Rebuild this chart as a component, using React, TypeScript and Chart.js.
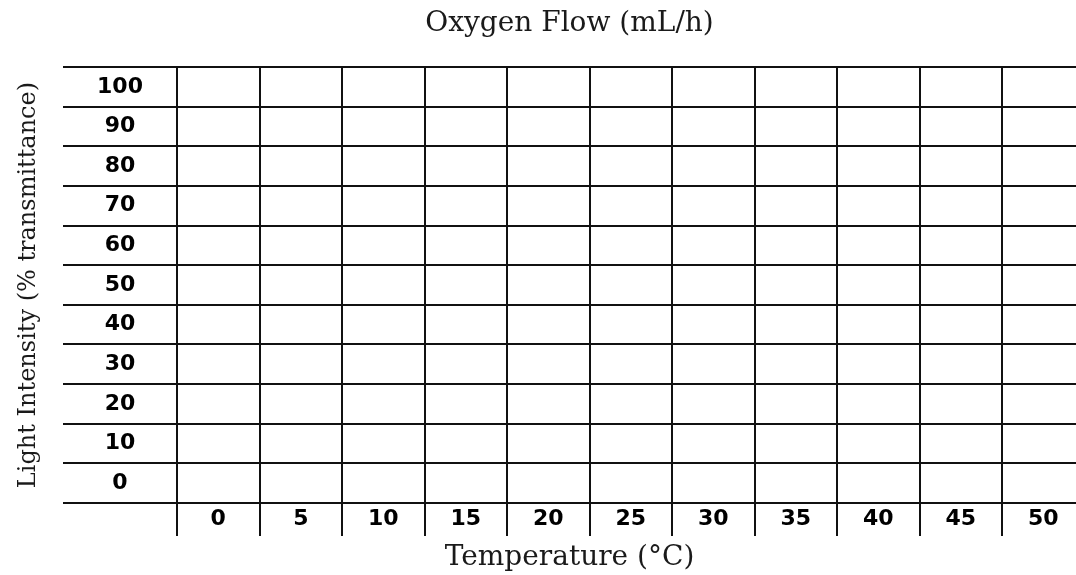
import React, { useEffect, useRef } from "react";
import { Chart, registerables } from "chart.js";

Chart.register(...registerables);

// ---- data (empty response grid: only axes / categories) ----
const temperatureValues = [0, 5, 10, 15, 20, 25, 30, 35, 40, 45, 50];
const temperatureLabels = ["0", "5", "10", "15", "20", "25", "30", "35", "40", "45", "50"];
const intensityValues = [0, 10, 20, 30, 40, 50, 60, 70, 80, 90, 100];
const intensityLabels = ["0", "10", "20", "30", "40", "50", "60", "70", "80", "90", "100"];
const topTitle = "Oxygen Flow (mL/h)";
const xTitle = "Temperature (°C)";
const yTitle = "Light Intensity (% transmittance)";

const TICK_FAMILY = "'DejaVu Sans', sans-serif";
const TICK_SIZE = 22;
const TITLE_FAMILY = "'DejaVu Serif', serif";
const TITLE_SIZE = 28;
const Y_TITLE_SIZE = 24;
const LINE = "#111111";

export default function App() {
  const ref = useRef<HTMLCanvasElement>(null);

  useEffect(() => {
    const canvas = ref.current;
    if (!canvas) return;
    const ctx = canvas.getContext("2d")!;
    ctx.font = `bold ${TICK_SIZE}px ${TICK_FAMILY}`;
    const widest = Math.max(...intensityLabels.map((t) => ctx.measureText(t).width));

    const chart = new Chart(canvas, {
      type: "scatter",
      data: { datasets: [{ data: [] }] },
      options: {
        responsive: false,
        animation: false,
        devicePixelRatio: 1,
        events: [],
        layout: { padding: 0 },
        plugins: {
          legend: { display: false },
          tooltip: { enabled: false },
          title: {
            display: true,
            text: topTitle,
            fullSize: false,
            color: "#1a1a1a",
            font: { family: TITLE_FAMILY, size: TITLE_SIZE, weight: "normal" },
            padding: { top: 6.7, bottom: 26.7 },
          },
        },
        scales: {
          x: {
            type: "linear",
            position: "bottom",
            min: -9.41,
            max: 51.98,
            afterBuildTicks: (scale: any) => {
              scale.ticks = temperatureValues.map((v) => ({ value: v }));
            },
            afterFit: (scale: any) => {
              scale.height = 72;
            },
            grid: {
              display: true,
              offset: true,
              color: LINE,
              lineWidth: 2,
              drawTicks: true,
              tickLength: 33,
              drawOnChartArea: true,
            },
            border: { display: false },
            ticks: {
              autoSkip: false,
              maxRotation: 0,
              minRotation: 0,
              padding: -30,
              color: "#000",
              font: { family: TICK_FAMILY, size: TICK_SIZE, weight: "bold" },
              callback: (_v: any, i: number) => temperatureLabels[i],
            },
            title: {
              display: true,
              text: xTitle,
              color: "#1a1a1a",
              font: { family: TITLE_FAMILY, size: TITLE_SIZE, weight: "normal" },
              padding: { top: 0, bottom: 0 },
            },
          },
          y: {
            type: "linear",
            position: "left",
            min: -5,
            max: 105,
            afterBuildTicks: (scale: any) => {
              scale.ticks = intensityValues.map((v) => ({ value: v }));
            },
            afterFit: (scale: any) => {
              scale.width = 63;
            },
            grid: {
              display: true,
              offset: true,
              color: LINE,
              lineWidth: 2,
              drawTicks: false,
              drawOnChartArea: true,
            },
            border: { display: false },
            ticks: {
              autoSkip: false,
              mirror: true,
              crossAlign: "center",
              padding: 57 - widest / 2,
              color: "#000",
              font: { family: TICK_FAMILY, size: TICK_SIZE, weight: "bold" },
              callback: (_v: any, i: number) => intensityLabels[i],
            },
            title: {
              display: true,
              text: yTitle,
              color: "#1a1a1a",
              font: { family: TITLE_FAMILY, size: Y_TITLE_SIZE, weight: "normal" },
              padding: { top: 14, bottom: 0 },
            },
          },
        },
      } as any,
    });

    return () => chart.destroy();
  }, []);

  return (
    <div style={{ position: "fixed", left: 0, top: 0, width: 1076, height: 575, background: "#fff" }}>
      <canvas ref={ref} width={1076} height={575} style={{ display: "block" }} />
    </div>
  );
}
